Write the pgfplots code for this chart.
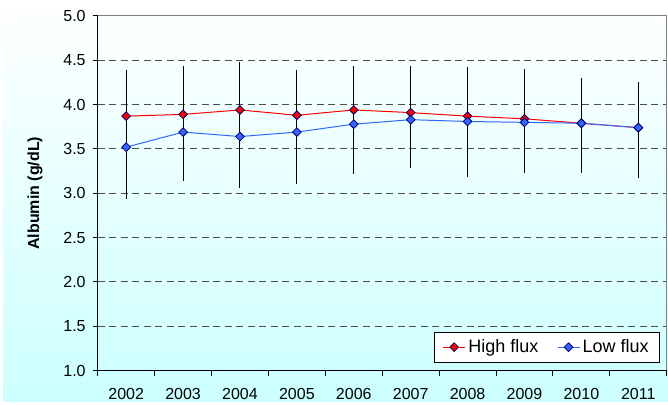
\documentclass[border=0pt]{standalone}
\usepackage{fontspec}
\setmainfont{Liberation Sans}
\usepackage{pgfplots}
\usepackage{pgfplotstable}
\pgfplotsset{compat=1.18}
\definecolor{hi}{RGB}{255,0,0}
\definecolor{lo}{RGB}{51,102,255}
\definecolor{edge}{RGB}{0,0,110}
\definecolor{cy}{RGB}{204,255,255}
\pgfplotstableread{
x hi lo top bot
0 3.87 3.52 4.39 2.93
1 3.89 3.69 4.435 3.14
2 3.94 3.64 4.48 3.06
3 3.88 3.69 4.39 3.11
4 3.94 3.78 4.44 3.22
5 3.91 3.83 4.44 3.28
6 3.87 3.81 4.42 3.18
7 3.84 3.80 4.40 3.23
8 3.79 3.79 4.30 3.23
9 3.74 3.74 4.26 3.17
}\data
\begin{document}
\begin{tikzpicture}
\path[fill=white] (-73.3pt,-23.6pt) rectangle (427.7pt,277.9pt);
\shade[top color=white, bottom color=cy] (-71pt,-23.6pt) rectangle (427.7pt,277.9pt);
\begin{axis}[
  at={(0pt,0pt)}, anchor=south west, scale only axis,
  width=426.75pt, height=265.9pt,
  xmin=-0.5, xmax=9.5, ymin=1, ymax=5,
  clip=false,
  axis line style={draw=none},
  tick pos=left, tick align=outside,
  major tick length=3.75pt, minor tick length=3.75pt,
  ytick={1,1.5,...,5},
  yticklabel style={xshift=-1.8pt},
  y tick label style={/pgf/number format/.cd, fixed, fixed zerofill, precision=1, assume math mode=true},
  xtick={0,...,9},
  xticklabels={2002,2003,2004,2005,2006,2007,2008,2009,2010,2011},
  xticklabel style={yshift=-6pt},
  minor xtick={-0.5,0.5,...,9.5},
  major x tick style={draw=none},
  minor x tick style={draw=black, line width=0.75pt},
  major y tick style={draw=black, line width=0.75pt},
  ymajorgrids,
  grid style={black!70, line width=0.75pt, dash pattern=on 5.25pt off 3.4pt},
  tick label style={font=\fontsize{12}{14}\selectfont},
  ylabel={Albumin (g/dL)},
  every axis y label/.style={at={(axis description cs:-0.110,0.5)}, rotate=90, anchor=center, font=\fontsize{12}{14}\selectfont\bfseries},
  legend columns=2,
  legend style={at={(axis description cs:0.988,0.0226)}, anchor=south east, draw=black, fill=white, line width=0.75pt,
    font=\fontsize{13.5}{16}\selectfont, inner xsep=6pt, inner ysep=3.5pt,
    /tikz/every even column/.append style={column sep=12pt}},
  legend image code/.code={\draw[mark repeat=2,mark phase=2,#1] plot coordinates {(0pt,0pt) (8.25pt,0pt) (16.5pt,0pt)};},
]
\addplot[forget plot, draw=none, mark=none,
  error bars/.cd, y dir=both, y explicit,
  error bar style={draw=black, line width=0.75pt, solid}, error mark=none]
  table[x=x, y=lo, y error plus expr=\thisrow{top}-\thisrow{lo}, y error minus expr=\thisrow{lo}-\thisrow{bot}] {\data};
\addplot[color=hi, line width=0.75pt, mark=square*, mark size=2.3pt,
  mark options={rotate=45, fill=hi, draw=edge, line width=0.6pt}]
  table[x=x, y=hi] {\data};
\addlegendentry{High flux}
\addplot[color=lo, line width=0.75pt, mark=square*, mark size=2.3pt,
  mark options={rotate=45, fill=lo, draw=edge, line width=0.6pt}]
  table[x=x, y=lo] {\data};
\addlegendentry{Low flux}
\draw[gray, line width=0.75pt] (rel axis cs:0,1) -- (rel axis cs:1,1) -- (rel axis cs:1,0);
\draw[black, line width=0.75pt] (rel axis cs:0,1) -- (rel axis cs:0,0) -- (rel axis cs:1,0);
\end{axis}
\end{tikzpicture}
\end{document}
